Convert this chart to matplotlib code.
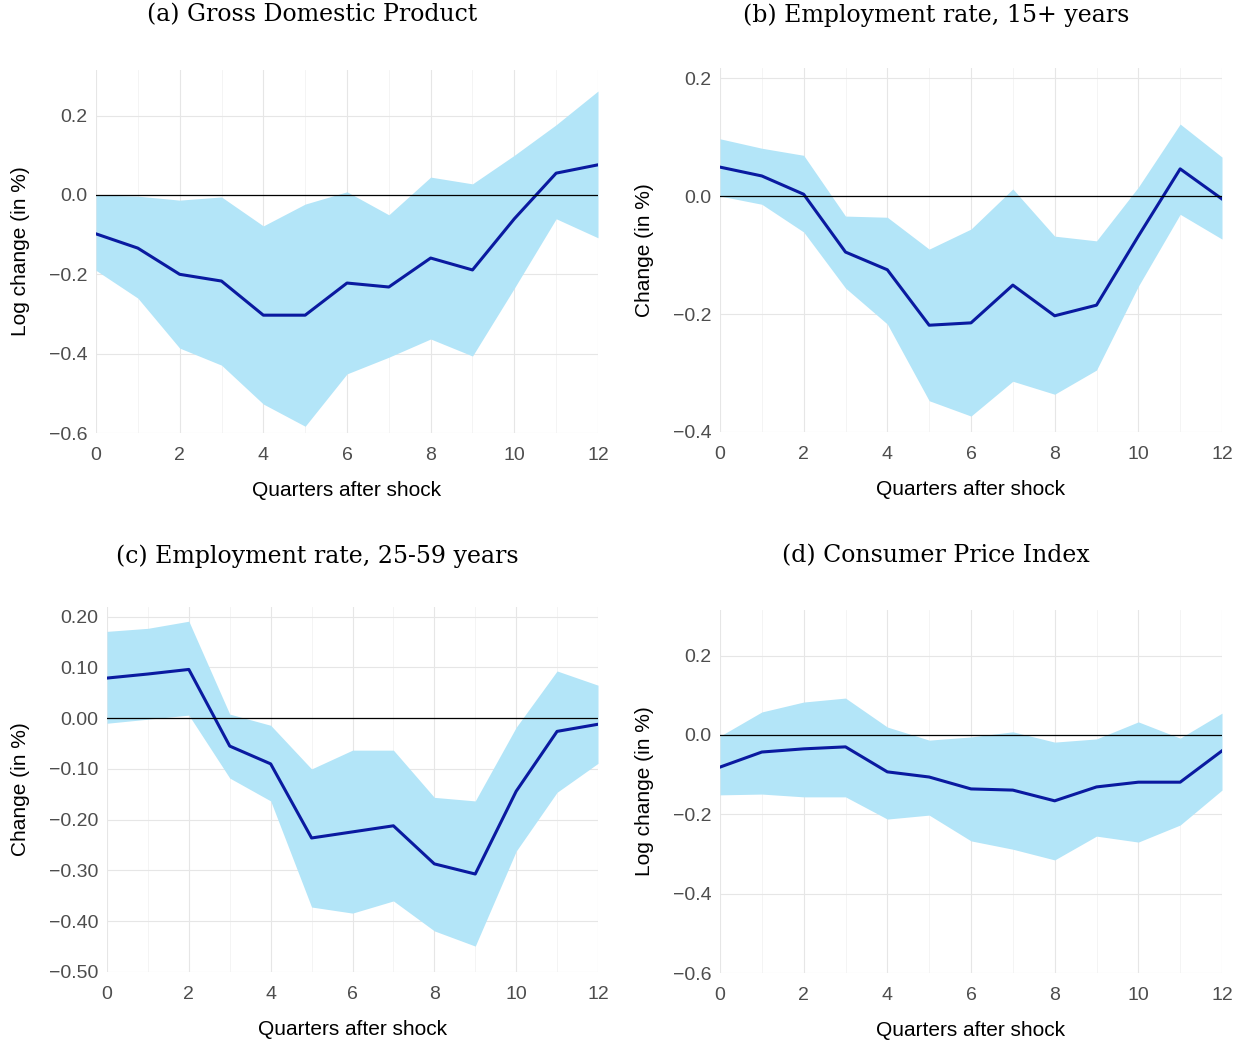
import numpy as np
import matplotlib.pyplot as plt
from matplotlib.ticker import FuncFormatter, MultipleLocator

q = np.arange(13)

gdp_mid = [-0.098, -0.134, -0.2, -0.217, -0.303, -0.303, -0.222, -0.232, -0.159, -0.189, -0.06, 0.055, 0.076]
gdp_hi = [0.0, -0.003, -0.013, -0.005, -0.078, -0.023, 0.008, -0.05, 0.045, 0.028, 0.1, 0.177, 0.262]
gdp_lo = [-0.19, -0.26, -0.386, -0.429, -0.527, -0.583, -0.451, -0.409, -0.363, -0.406, -0.235, -0.06, -0.108]

emp15_mid = [0.049, 0.034, 0.003, -0.095, -0.125, -0.219, -0.215, -0.151, -0.203, -0.185, -0.068, 0.046, -0.005]
emp15_hi = [0.097, 0.081, 0.069, -0.034, -0.036, -0.09, -0.056, 0.012, -0.068, -0.076, 0.015, 0.122, 0.066]
emp15_lo = [0.0, -0.014, -0.061, -0.156, -0.217, -0.347, -0.373, -0.314, -0.336, -0.295, -0.153, -0.031, -0.073]

emp25_mid = [0.079, 0.087, 0.096, -0.055, -0.09, -0.236, -0.224, -0.212, -0.287, -0.307, -0.144, -0.026, -0.012]
emp25_hi = [0.171, 0.177, 0.191, 0.008, -0.014, -0.1, -0.063, -0.063, -0.156, -0.163, -0.018, 0.093, 0.065]
emp25_lo = [-0.01, -0.002, 0.006, -0.118, -0.163, -0.372, -0.384, -0.36, -0.419, -0.449, -0.262, -0.146, -0.089]

cpi_mid = [-0.081, -0.043, -0.035, -0.03, -0.093, -0.106, -0.136, -0.139, -0.166, -0.131, -0.119, -0.119, -0.04]
cpi_hi = [-0.003, 0.058, 0.083, 0.093, 0.02, -0.013, -0.005, 0.008, -0.018, -0.01, 0.033, -0.008, 0.055]
cpi_lo = [-0.151, -0.149, -0.156, -0.156, -0.212, -0.202, -0.267, -0.288, -0.315, -0.255, -0.27, -0.227, -0.139]

W, H = 1245, 1044
panels = [
    ("(a) Gross Domestic Product", "Log change (in %)", gdp_mid, gdp_hi, gdp_lo,
     (96, 598, 70, 433), (-0.6, 0.315), 0.2, "{:.1f}"),
    ("(b) Employment rate, 15+ years", "Change (in %)", emp15_mid, emp15_hi, emp15_lo,
     (720, 1222, 68, 432), (-0.4, 0.217), 0.2, "{:.1f}"),
    ("(c) Employment rate, 25-59 years", "Change (in %)", emp25_mid, emp25_hi, emp25_lo,
     (107, 598, 607, 972), (-0.5, 0.219), 0.1, "{:.2f}"),
    ("(d) Consumer Price Index", "Log change (in %)", cpi_mid, cpi_hi, cpi_lo,
     (720, 1222, 610, 973), (-0.6, 0.315), 0.2, "{:.1f}"),
]
title_y = [15, 15, 556, 556]

fig = plt.figure(figsize=(W / 100, H / 100), dpi=100)
for i, (title, ylab, mid, hi, lo, (l, r, t, b), ylim, step, fmt) in enumerate(panels):
    ax = fig.add_axes([l / W, 1 - b / H, (r - l) / W, (b - t) / H])
    ax.fill_between(q, lo, hi, color="#b3e5f8", lw=0)
    ax.plot(q, mid, color="#0a1aa0", lw=2.2)
    ax.axhline(0, color="black", lw=0.9)
    ax.set_xlim(0, 12)
    ax.set_ylim(*ylim)
    ax.xaxis.set_major_locator(MultipleLocator(2))
    ax.xaxis.set_minor_locator(MultipleLocator(1))
    ax.yaxis.set_major_locator(MultipleLocator(step))
    ax.yaxis.set_major_formatter(FuncFormatter(lambda v, p, f=fmt: f.format(v).replace("-", "\u2212")))
    ax.grid(which="major", color="#e6e6e6", lw=0.8)
    ax.grid(which="minor", axis="x", color="#f3f3f3", lw=0.6)
    ax.set_axisbelow(True)
    for s in ax.spines.values():
        s.set_visible(False)
    ax.tick_params(which="both", length=0, labelsize=14, labelcolor="#4d4d4d")
    ax.tick_params(axis="x", pad=10)
    ax.tick_params(axis="y", pad=6)
    ax.set_xlabel("Quarters after shock", fontsize=15, family="Liberation Sans", labelpad=12)
    ax.set_ylabel(ylab, fontsize=15, family="Liberation Sans", labelpad=14)
    for lab in ax.get_xticklabels() + ax.get_yticklabels():
        lab.set_family("Liberation Sans")
    fig.text(((l + r) / 2 - 35) / W, 1 - title_y[i] / H, title, ha="center", va="center",
             fontsize=17, family="DejaVu Serif")

fig.savefig("out.png", dpi=100)
